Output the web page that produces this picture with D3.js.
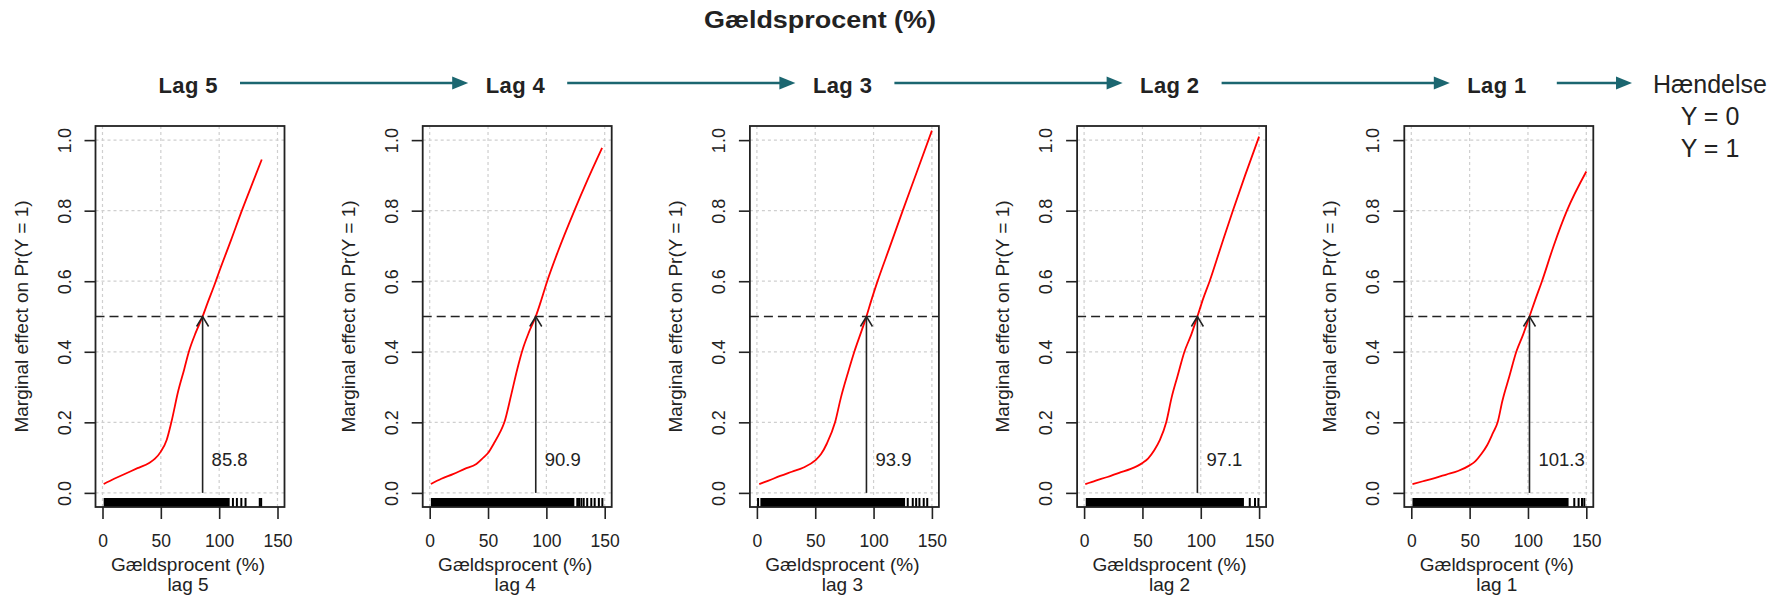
<!DOCTYPE html>
<html lang="da">
  <head>
    <meta charset='utf-8'>
    <title>Gældsprocent (%) - marginal effect per lag</title>
    <script type="text/javascript" src="https://cdn.jsdelivr.net/npm/d3@7/dist/d3.min.js"></script>
    <style>
      body { margin:0; background:white; }
      text { font-family:"Liberation Sans", Arial, sans-serif; fill:#222; }
    </style>
  </head>
  <body>
    <div id="mainDiv"></div>
    <script type="text/javascript">
      //Data
      var lagNames=["Lag 5","Lag 4","Lag 3","Lag 2","Lag 1"];
      var subLabels=["lag 5","lag 4","lag 3","lag 2","lag 1"];
      var thresholds=[85.8,90.9,93.9,97.1,101.3];
      var xTicks=[0,50,100,150];
      var yTicks=[0,0.2,0.4,0.6,0.8,1.0];
      var eventLabels=["Hændelse","Y = 0","Y = 1"];

      //Fitted curves, [x, Pr(Y=1)]
      var curveLag5=[[1,0.025],[10,0.04],[20,0.055],[30,0.07],[40,0.085],[45,0.097],[50,0.117],[55,0.15],[59,0.2],[65,0.29],[70,0.35],[74,0.4],[80,0.455],[85.8,0.5],[90,0.538],[96,0.59],[100,0.627],[110,0.715],[120,0.805],[130,0.89],[136.5,0.945]];
      var curveLag4=[[1,0.025],[10,0.04],[20,0.053],[30,0.068],[40,0.082],[46,0.1],[50,0.113],[55,0.14],[60,0.17],[64,0.2],[70,0.28],[75,0.35],[80,0.41],[85,0.455],[90.9,0.5],[95,0.54],[100.7,0.6],[110,0.685],[124,0.8],[135,0.885],[147.8,0.978]];
      var curveLag3=[[2,0.025],[10,0.035],[20,0.048],[30,0.06],[40,0.072],[50,0.092],[55,0.11],[60,0.14],[67,0.2],[72,0.27],[78,0.34],[83.5,0.4],[90,0.462],[93.9,0.5],[98,0.545],[103,0.596],[114,0.698],[125,0.8],[137,0.909],[150,1.027]];
      var curveLag2=[[1,0.025],[10,0.035],[20,0.045],[30,0.057],[40,0.068],[50,0.085],[55,0.098],[60,0.12],[65,0.15],[70.4,0.2],[75,0.27],[80,0.33],[86,0.4],[92,0.45],[97.1,0.5],[102,0.55],[107.6,0.6],[117,0.695],[127.5,0.8],[138,0.9],[150,1.01]];
      var curveLag1=[[1,0.025],[10,0.033],[20,0.042],[30,0.052],[40,0.062],[50,0.078],[55,0.09],[60,0.11],[65,0.135],[70,0.17],[74,0.2],[78,0.26],[84,0.33],[90,0.4],[96,0.45],[101.3,0.5],[106,0.545],[112,0.6],[122,0.7],[133.4,0.8],[150,0.911]];
      var curves=[curveLag5,curveLag4,curveLag3,curveLag2,curveLag1];

      //Rug: solid block of observations and the single ticks beyond it
      var rugBlocks=[[1,109],[1,124],[3,127],[1.4,137],[1,134.8]];
      var rugLag5=[111.8,115.2,119,122.6,134.8,136];
      var rugLag4=[126.5,128,130,132,135,138.5,141.4,145,148];
      var rugLag3=[1,129.3,133.6,136.5,139.3,143,146];
      var rugLag2=[142,146.5,149.4];
      var rugLag1=[139.7,143.4,146.3,148.3];
      var rugs=[rugLag5,rugLag4,rugLag3,rugLag2,rugLag1];

      var w=1784;
      var h=598;
      var boxW=189;
      var plotTop=126;
      var plotBottom=507;
      var step=327.2;
      var arrowCol="#1b6670";

      //Create SVG
      var svg=d3.select("#mainDiv")
        .append("svg")
        .attr("width",w)
        .attr("height",h);

      //Title
      svg.append("text")
        .attr("x",820)
        .attr("y",28)
        .attr("text-anchor","middle")
        .attr("font-weight","bold")
        .attr("font-size","23px")
        .attr("textLength",232)
        .attr("lengthAdjust","spacingAndGlyphs")
        .text("Gældsprocent (%)");

      //Header row: lag labels with arrows between them
      var headY=83;
      function headArrow(x1,x2){
        svg.append("line")
          .attr("x1",x1).attr("x2",x2-14)
          .attr("y1",headY).attr("y2",headY)
          .attr("stroke",arrowCol)
          .attr("stroke-width",2.4);
        svg.append("path")
          .attr("d","M"+(x2-16)+","+(headY-6.5)+"L"+x2+","+headY+"L"+(x2-16)+","+(headY+6.5)+"Z")
          .attr("fill",arrowCol);
      }
      lagNames.forEach(function(name,i){
        var cx=95.5+i*step+boxW/2-2;
        svg.append("text")
          .attr("x",cx)
          .attr("y",92.5)
          .attr("text-anchor","middle")
          .attr("font-weight","bold")
          .attr("font-size","22px")
          .attr("textLength",59)
          .attr("lengthAdjust","spacing")
          .style("font-family","'Liberation Sans Narrow', 'Liberation Sans', Arial, sans-serif")
          .text(name);
        if(i<lagNames.length-1){
          headArrow(cx+52,cx+step-47);
        }else{
          headArrow(cx+60,1632);
        }
      });
      //Event legend on the right
      eventLabels.forEach(function(t,i){
        svg.append("text")
          .attr("x",1710)
          .attr("y",93+i*32)
          .attr("text-anchor","middle")
          .attr("font-size","25px")
          .text(t);
      });

      //Panels
      curves.forEach(function(curve,i){
        var left=95.5+i*step;
        var x=d3.scaleLinear().domain([-6,156]).range([left,left+boxW]);
        var y=d3.scaleLinear().domain([-0.04,1.04]).range([plotBottom,plotTop]);
        var g=svg.append("g");

        //Grid
        g.selectAll(".vgrid")
          .data(xTicks).enter()
          .append("line")
          .attr("x1",function(d){return x(d);})
          .attr("x2",function(d){return x(d);})
          .attr("y1",plotTop).attr("y2",plotBottom)
          .attr("stroke","#cfcfcf")
          .attr("stroke-width",1.2)
          .attr("stroke-dasharray","3,3");
        g.selectAll(".hgrid")
          .data(yTicks).enter()
          .append("line")
          .attr("x1",left).attr("x2",left+boxW)
          .attr("y1",function(d){return y(d);})
          .attr("y2",function(d){return y(d);})
          .attr("stroke","#cfcfcf")
          .attr("stroke-width",1.2)
          .attr("stroke-dasharray","3,3");

        //Rug
        var blk=rugBlocks[i];
        g.append("rect")
          .attr("x",x(blk[0]))
          .attr("y",plotBottom-9)
          .attr("width",x(blk[1])-x(blk[0]))
          .attr("height",9)
          .attr("fill","black");
        g.selectAll(".rug")
          .data(rugs[i]).enter()
          .append("line")
          .attr("x1",function(d){return x(d);})
          .attr("x2",function(d){return x(d);})
          .attr("y1",plotBottom-9).attr("y2",plotBottom)
          .attr("stroke","black")
          .attr("stroke-width",2);

        //Dashed 0.5 line
        g.append("line")
          .attr("x1",left).attr("x2",left+boxW)
          .attr("y1",y(0.5)).attr("y2",y(0.5))
          .attr("stroke","#222")
          .attr("stroke-width",1.6)
          .attr("stroke-dasharray","9,5");

        //Curve
        g.append("path")
          .datum(curve)
          .attr("d",d3.line()
            .x(function(d){return x(d[0]);})
            .y(function(d){return y(d[1]);})
            .curve(d3.curveMonotoneX))
          .attr("fill","none")
          .attr("stroke","red")
          .attr("stroke-width",1.8);

        //Arrow from 0 up to the threshold
        var tx=x(thresholds[i]);
        var ty=y(0.5);
        g.append("line")
          .attr("x1",tx).attr("x2",tx)
          .attr("y1",y(0)).attr("y2",ty)
          .attr("stroke","#222")
          .attr("stroke-width",1.6);
        g.append("path")
          .attr("d","M"+(tx-6)+","+(ty+10)+"L"+tx+","+ty+"L"+(tx+6)+","+(ty+10))
          .attr("fill","none")
          .attr("stroke","#222")
          .attr("stroke-width",1.5);
        g.append("text")
          .attr("x",tx+9)
          .attr("y",y(0.075))
          .attr("font-size","18.5px")
          .text(thresholds[i].toFixed(1));

        //Box
        g.append("rect")
          .attr("x",left).attr("y",plotTop)
          .attr("width",boxW).attr("height",plotBottom-plotTop)
          .attr("fill","none")
          .attr("stroke","#222")
          .attr("stroke-width",1.8);

        //Axes
        var xAxis=g.append("g")
          .attr("transform","translate(0,"+plotBottom+")")
          .call(d3.axisBottom(x).tickValues(xTicks).tickSize(12).tickFormat(d3.format("d")));
        xAxis.select(".domain").remove();
        xAxis.selectAll("line").attr("stroke","#222").attr("stroke-width",1.6);
        xAxis.selectAll("text")
          .attr("y",28)
          .attr("dy","0.71em")
          .attr("fill","#222")
          .style("font-size","17.5px")
          .style("font-family","'Liberation Sans', Arial, sans-serif");

        var yAxis=g.append("g")
          .attr("transform","translate("+left+",0)")
          .call(d3.axisLeft(y).tickValues(yTicks).tickSize(11).tickFormat(d3.format(".1f")));
        yAxis.select(".domain").remove();
        yAxis.selectAll("line").attr("stroke","#222").attr("stroke-width",1.6);
        yAxis.selectAll("text")
          .attr("transform","rotate(-90)")
          .attr("x",0)
          .attr("y",-25)
          .attr("dy",0)
          .attr("text-anchor","middle")
          .attr("fill","#222")
          .style("font-size","18px")
          .style("font-family","'Liberation Sans', Arial, sans-serif");

        //Axis titles
        g.append("text")
          .attr("transform","translate("+(left-68)+","+((plotTop+plotBottom)/2)+") rotate(-90)")
          .attr("text-anchor","middle")
          .attr("font-size","19px")
          .text("Marginal effect on Pr(Y = 1)");
        g.append("text")
          .attr("x",left+boxW/2-2)
          .attr("y",571)
          .attr("text-anchor","middle")
          .attr("font-size","19px")
          .text("Gældsprocent (%)");
        g.append("text")
          .attr("x",left+boxW/2-2)
          .attr("y",591)
          .attr("text-anchor","middle")
          .attr("font-size","19px")
          .text(subLabels[i]);
      });
    </script>
  </body>
</html>
